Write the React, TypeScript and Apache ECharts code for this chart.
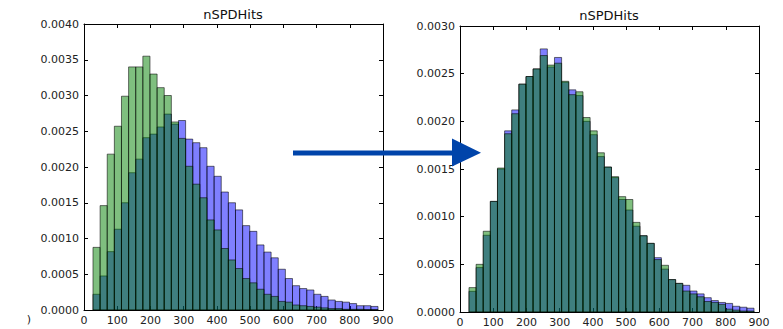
import React, { useEffect, useRef } from "react";
import * as echarts from "echarts";

// Histogram binning (40 bins over the data range)
const binLo = 27;
const binHi = 885;
const nBins = 40;

const title = "nSPDHits";
const xTicks = [0, 100, 200, 300, 400, 500, 600, 700, 800, 900];

// Left panel (before)
const leftBlue = [
  0.00022, 0.000476, 0.000816, 0.00113, 0.0015, 0.00192, 0.00211, 0.00241, 0.00246, 0.00256,
  0.00274, 0.0026, 0.00265, 0.00239, 0.00234, 0.00227, 0.00201, 0.00187, 0.00165, 0.0015,
  0.0014, 0.00118, 0.0011, 0.00091, 0.00081, 0.00073, 0.00057, 0.00044, 0.00034, 0.0003,
  0.00028, 0.00022, 0.00019, 0.00014, 0.00012, 0.00011, 0.00009, 0.00006, 0.00006, 0.00005,
];
const leftGreen = [
  0.000876, 0.00146, 0.00218, 0.00257, 0.00299, 0.0034, 0.0034, 0.00355, 0.0033, 0.00311,
  0.003, 0.00263, 0.0024, 0.00201, 0.00176, 0.00157, 0.00126, 0.00112, 0.00086, 0.0007,
  0.00058, 0.00044, 0.00038, 0.00029, 0.00022, 0.00019, 0.00012, 0.00011, 0.00007, 0.00006,
  0.00005, 0.00004, 0.00003, 0.00002, 0.00002, 0.00001, 0.00001, 0.00001, 0.000005, 0.000005,
];

// Right panel (after)
const rightBlue = [
  0.000217, 0.000466, 0.000805, 0.00116, 0.0015, 0.0019, 0.00212, 0.00239, 0.00247, 0.00255,
  0.00276, 0.00257, 0.00267, 0.00241, 0.00233, 0.00227, 0.002, 0.00186, 0.00163, 0.00152,
  0.00141, 0.00118, 0.00107, 0.0009, 0.0008, 0.00072, 0.00057, 0.00045, 0.00034, 0.0003,
  0.00028, 0.00022, 0.00019, 0.00015, 0.00012, 0.0001, 0.00009, 0.00006, 0.00005, 0.00004,
];
const rightGreen = [
  0.000256, 0.0005, 0.000847, 0.00116, 0.00151, 0.00187, 0.00208, 0.00239, 0.00247, 0.00255,
  0.00269, 0.00259, 0.00261, 0.00242, 0.00228, 0.00231, 0.00204, 0.0019, 0.00167, 0.00152,
  0.00142, 0.00121, 0.00118, 0.00094, 0.0008, 0.00072, 0.00055, 0.00049, 0.00034, 0.0003,
  0.00022, 0.00019, 0.00016, 0.00011, 0.0001, 0.00008, 0.00003, 0.00002, 0.00001, 0.00001,
];

const FONT = "DejaVu Sans";
const BLUE = "rgba(0,0,255,0.5)";
const GREEN = "rgba(0,128,0,0.5)";
const EDGE = "rgba(0,0,0,0.55)";

function toBins(vals: number[]) {
  const w = (binHi - binLo) / nBins;
  return vals.map((v, i) => [binLo + i * w, binLo + (i + 1) * w, v]);
}

function histSeries(vals: number[], color: string, axisIdx: number) {
  return {
    type: "custom",
    xAxisIndex: axisIdx,
    yAxisIndex: axisIdx,
    data: toBins(vals),
    encode: { x: [0, 1], y: 2 },
    renderItem: (params: any, api: any) => {
      const p0 = api.coord([api.value(0), api.value(2)]);
      const p1 = api.coord([api.value(1), 0]);
      return {
        type: "rect",
        shape: { x: p0[0], y: p0[1], width: p1[0] - p0[0], height: p1[1] - p0[1] },
        style: { fill: color, stroke: EDGE, lineWidth: 1 },
      };
    },
  };
}

const tickLabel = { color: "#222", fontFamily: FONT, fontSize: 11 };

function xAxes(gridIndex: number) {
  const base = {
    type: "value",
    gridIndex,
    min: xTicks[0],
    max: xTicks[xTicks.length - 1],
    interval: xTicks[1] - xTicks[0],
    splitLine: { show: false },
    axisLine: { show: true, onZero: false, lineStyle: { color: "#000", width: 1 } },
    axisTick: { show: true, inside: true, length: 4, lineStyle: { color: "#000" } },
  };
  return [
    { ...base, position: "bottom", axisLabel: { ...tickLabel, margin: 5 } },
    { ...base, position: "top", axisLabel: { show: false } },
  ];
}

function yAxes(gridIndex: number, max: number) {
  const base = {
    type: "value",
    gridIndex,
    min: 0,
    max,
    interval: 0.0005,
    splitLine: { show: false },
    axisLine: { show: true, onZero: false, lineStyle: { color: "#000", width: 1 } },
    axisTick: { show: true, inside: true, length: 4, lineStyle: { color: "#000" } },
  };
  return [
    {
      ...base,
      position: "left",
      axisLabel: { ...tickLabel, margin: 5, formatter: (v: number) => v.toFixed(4) },
    },
    { ...base, position: "right", axisLabel: { show: false } },
  ];
}

export default function App() {
  const ref = useRef<HTMLDivElement>(null);
  useEffect(() => {
    document.body.style.margin = "0";
    document.body.style.overflow = "hidden";
    if (!ref.current) return;
    const chart = echarts.init(ref.current, null, { renderer: "svg" });
    const lx = xAxes(0);
    const rx = xAxes(1);
    const ly = yAxes(0, 0.004);
    const ry = yAxes(1, 0.003);
    chart.setOption({
      animation: false,
      backgroundColor: "#fff",
      grid: [
        { left: 84, top: 24, width: 299, height: 286 },
        { left: 460, top: 26, width: 299, height: 286 },
      ],
      // axes order: 0 left-bottom, 1 right-bottom, 2 left-top, 3 right-top
      xAxis: [lx[0], rx[0], lx[1], rx[1]],
      yAxis: [ly[0], ry[0], ly[1], ry[1]],
      series: [
        histSeries(leftBlue, BLUE, 0),
        histSeries(leftGreen, GREEN, 0),
        histSeries(rightBlue, BLUE, 1),
        histSeries(rightGreen, GREEN, 1),
      ],
      graphic: [
        {
          type: "text",
          x: 233,
          y: 14,
          style: { text: title, fontFamily: FONT, fontSize: 13, fill: "#111", align: "center", verticalAlign: "middle" },
        },
        {
          type: "text",
          x: 609,
          y: 15,
          style: { text: title, fontFamily: FONT, fontSize: 13, fill: "#111", align: "center", verticalAlign: "middle" },
        },
        {
          type: "text",
          x: 29,
          y: 319,
          style: { text: ")", fontFamily: FONT, fontSize: 11, fill: "#222", align: "center", verticalAlign: "middle" },
        },
        {
          type: "rect",
          z: 100,
          shape: { x: 293, y: 150.5, width: 162, height: 5 },
          style: { fill: "#0044aa" },
        },
        {
          type: "polygon",
          z: 100,
          shape: { points: [[452, 138.5], [481, 152.8], [452, 166.5]] },
          style: { fill: "#0044aa" },
        },
      ],
    });
    return () => chart.dispose();
  }, []);
  return <div ref={ref} style={{ width: 783, height: 329 }} />;
}
